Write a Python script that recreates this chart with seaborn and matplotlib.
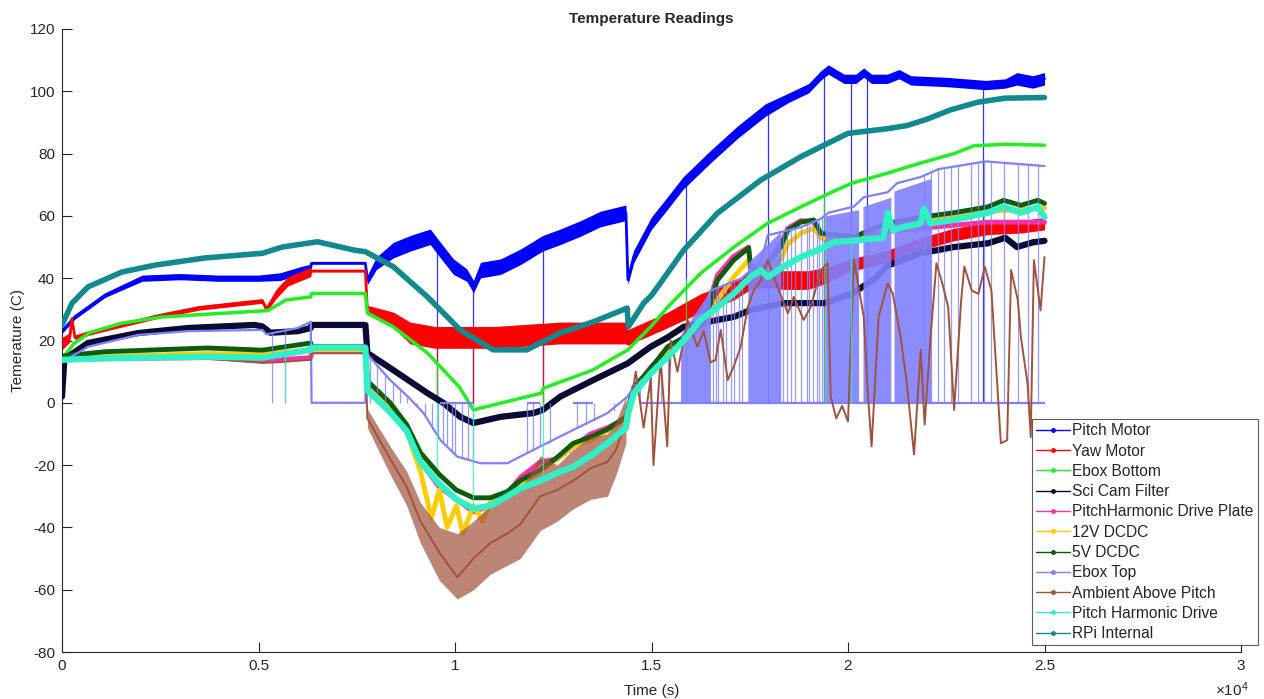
import matplotlib
matplotlib.use("Agg")
import matplotlib.pyplot as plt
from matplotlib.lines import Line2D
import numpy as np
import seaborn as sns

# ------------------------------------------------------------------ data
series_names = ["Pitch Motor", "Yaw Motor", "Ebox Bottom", "Sci Cam Filter",
                "PitchHarmonic Drive Plate", "12V DCDC", "5V DCDC", "Ebox Top",
                "Ambient Above Pitch", "Pitch Harmonic Drive", "RPi Internal"]
series_colors = ["#0000FF", "#FF0000", "#22EE22", "#0A0A33", "#FF2EA8", "#FFCC00",
                 "#0B5D0B", "#8080FF", "#A0523C", "#30F0C8", "#12898F"]

x_tick_values = [0, 5000, 10000, 15000, 20000, 25000, 30000]
x_tick_labels = ["0", "0.5", "1", "1.5", "2", "2.5", "3"]
y_tick_values = [-80, -60, -40, -20, 0, 20, 40, 60, 80, 100, 120]

# Pitch Motor
pitch_motor_t = [0, 330, 1100, 2040, 3000, 4000, 5000, 5550, 6110, 6330,
                 6350, 7720, 7770, 8000, 8430, 8860, 9370, 9630, 9960, 10300,
                 10470, 10650, 11160, 11670, 12230, 12680, 13200, 13700, 14350, 14400,
                 14550, 15000, 15400, 15800, 16500, 17200, 17900, 18500, 19000, 19300,
                 19500, 19700, 19900, 20200, 20400, 20600, 21000, 21300, 21600, 22500,
                 23500, 24000, 24300, 24700, 25000]
pitch_motor_T = [23, 27.6, 34.6, 40, 40.5, 40, 40, 40.5, 42.6, 43.5,
                 44.8, 44.8, 39.4, 44.8, 49, 51.2, 53.3, 49, 43.7, 41,
                 37.3, 42.6, 43.7, 46.9, 51.2, 53.3, 56, 59, 61, 39.5,
                 47, 57.7, 64, 70.5, 79, 87, 94, 98, 101, 105,
                 107, 105.5, 104, 104, 106, 104, 104, 105.5, 103.5, 103,
                 102, 102.5, 104, 103, 104]
pitch_motor_spread = [1.5, 1.5, 1.5, 2, 2, 2, 2, 2.5, 2.5, 2,
                      0.5, 0.5, 3, 4, 5, 5, 5, 5, 5, 4,
                      4, 5, 5, 5, 5, 5, 5, 5, 5, 3,
                      4, 4, 4, 4, 4, 4, 4, 3, 3, 3,
                      3, 3, 3, 3, 3, 3, 3, 3, 3, 3,
                      3, 3, 4, 4, 4]
pitch_motor_drop_t = [9530, 10470, 12230, 15890, 17960, 19380, 20070, 20480, 23430]
pitch_motor_drop_T = [52, 37, 51, 71, 94, 106, 104, 105, 102]

# Yaw Motor
yaw_motor_t = [0, 200, 250, 330, 700, 1500, 2500, 3500, 5100, 5200,
               5450, 5750, 6330, 6350, 7720, 7770, 8430, 8860, 9500, 11000,
               12670, 14350, 14400, 15410, 16250, 16680, 17090, 17520, 17960, 18360,
               18980, 19480, 20000, 21010, 21850, 22690, 23560, 24400, 25000]
yaw_motor_T = [19, 21, 27, 21, 22.5, 25, 28, 30.5, 32.7, 30,
               35, 39, 42, 42.3, 42.3, 29.8, 26.6, 22.4, 21, 21,
               22.4, 22.4, 21, 26.6, 32, 34, 36, 39.4, 40, 39.4,
               39.4, 41, 44, 47, 51, 54, 56, 56.5, 57.5]
yaw_motor_spread = [4, 3, 1, 1.5, 1.5, 1.5, 1.5, 1.5, 1.5, 2,
                    3, 3, 3, 0.5, 0.5, 3, 5, 7, 7, 7,
                    7, 7, 5, 5, 6, 6, 6, 6, 6, 6,
                    6, 5, 4, 4, 4, 4, 4, 4, 4]
yaw_motor_drop_t = [9530, 10470, 12230]
yaw_motor_drop_T = [20, 20, 21]

# Ebox Bottom
ebox_bottom_t = [0, 300, 700, 1500, 2500, 3500, 5100, 5250, 5700, 6330,
                 6350, 7720, 7770, 8430, 9300, 10100, 10470, 11160, 12200, 12250,
                 13500, 14400, 14980, 15410, 16250, 17100, 17950, 18800, 19650, 20100,
                 21000, 21850, 22700, 23200, 24000, 25000]
ebox_bottom_T = [14, 19, 22.5, 25.5, 27.5, 28.3, 29.5, 29.7, 33, 34,
                 35.1, 35.1, 28.8, 24.4, 16, 5.2, -2.3, -0.1, 3.1, 4.7,
                 10.5, 17, 24.4, 30.7, 41.6, 50, 57.6, 62.9, 68, 70.5,
                 73.7, 77, 80, 82.5, 83, 82.7]
ebox_bottom_drop_t = [9530, 10470, 12230, 15890, 19380]
ebox_bottom_drop_T = [12, -2, 3, 40, 67]

# Sci Cam Filter
sci_cam_t = [0, 60, 660, 1940, 3200, 4900, 5100, 5300, 6000, 6330,
             6350, 7720, 7770, 8430, 9300, 9700, 10130, 10470, 11160, 12000,
             12230, 12680, 13520, 14400, 14980, 15410, 15820, 16680, 17100, 17520,
             18360, 19400, 20100, 20700, 21000, 21850, 22690, 23560, 24000, 24300,
             24700, 25000]
sci_cam_T = [2, 14, 19.2, 22.4, 24, 25, 24.5, 22.5, 23, 24,
             25, 25, 16, 10.5, 3.1, 0, -4.5, -6.5, -4.5, -3.3,
             -2.3, 2, 7.3, 12.7, 18, 21, 24.4, 26.6, 27.6, 29.8,
             32, 32, 35, 40, 44, 48, 50, 51.2, 53, 50,
             51.5, 52]

# PitchHarmonic Drive Plate
plate_t = [0, 3700, 5100, 6330, 6350, 7720,
           7770, 8350, 8770, 9120, 9600, 10035, 10470, 10900, 11330, 11660,
           12170, 12600, 13010, 13450, 13880, 14350,
           14400, 14550, 14980, 15410, 15820, 16330, 16680, 17090, 17470, 17520,
           17780, 18290, 18470, 18800, 19130, 19310, 20150, 21010, 21850, 22690,
           23560, 24400, 25000]
plate_T = [14, 14.5, 13.5, 14.5, 16.5, 16.5,
           5, -2, -9, -19, -27, -31, -35, -33, -29, -24,
           -19, -18, -14, -10, -8, -5,
           -4, 4, 11.5, 17, 21, 27, 41, 47, 50, 44,
           42.5, 51, 56, 58.5, 58, 53, 52, 55, 56, 57,
           58, 58, 58]

# 12V DCDC
dcdc12_t = [0, 3700, 5100, 6330, 6350, 7720,
            7770, 8350, 8770, 9120, 9400, 9600, 9800, 10035, 10200, 10470,
            10700, 10900, 11330, 11660, 12170, 12600, 13010, 13450, 13880, 14350,
            14400, 14550, 14980, 15410, 15820, 16330, 16680, 17090, 17470, 17520,
            17780, 18290, 18470, 18800, 19130, 19310, 20150, 21010, 21850, 22690,
            23560, 24400, 25000]
dcdc12_T = [14.5, 15.8, 15.5, 17, 17, 17,
            5, -2, -9, -22, -37, -28, -40, -33, -42, -33,
            -38, -32, -29, -26, -22, -18, -14, -12, -9, -5,
            -5, 3, 10, 16, 20, 24, 33, 40.4, 45.8, 42,
            41, 46, 51, 54.4, 56, 53, 52.5, 56.5, 58.5, 60,
            61.5, 62, 62.5]

# 5V DCDC
dcdc5_t = [0, 1100, 3700, 5100, 6330, 6350, 7720,
           7770, 8350, 8770, 9120, 9600, 10035, 10470, 10900, 11330, 11660,
           12170, 12600, 13010, 13450, 13880, 14350,
           14400, 14550, 14980, 15410, 15820, 16330, 16680, 17090, 17470, 17520,
           17780, 18290, 18470, 18800, 19130, 19310, 20150, 21010, 21850, 22690,
           23560, 23960, 24400, 24830, 25000]
dcdc5_T = [15, 16.4, 17.6, 16.9, 19.2, 18, 18,
           7, 0, -7, -16, -23, -28, -30.5, -30.5, -28.5, -25,
           -21.5, -17.5, -13, -11, -8.5, -4.5,
           -2, 5, 11, 18, 21, 25.6, 39.4, 45.8, 49.7, 43.7,
           42, 50, 55.4, 58, 58.7, 54.4, 53.3, 57.6, 59.6, 61,
           62.9, 65, 63.4, 65, 64]

# Ebox Top
ebox_top_t = [0, 660, 1940, 3200, 5100, 5200, 6000, 6330, 6350, 7720,
              7740, 8350, 8800, 9200, 9630, 10060, 10650, 11330, 12170, 13010,
              13880, 14390, 14550, 15400, 16250, 16500, 17300, 17800, 17960, 18800,
              19300, 19500, 20150, 20400, 21010, 21250, 21850, 22300, 23500, 24500,
              25000]
ebox_top_T = [13, 18, 21.8, 23, 23.4, 22, 24, 26, 0, 0,
              16, 7.3, 2, -3.3, -12, -17.3, -19.4, -19.4, -14, -8.7,
              -3.3, 2, 5.2, 13.7, 26.6, 36, 40, 45.8, 53.8, 56.4,
              59, 61, 63, 66, 67.6, 70.5, 72.5, 75, 77.5, 76.5,
              76]
ebox_top_drop_t = [5350, 5680, 7845, 8023, 8227, 8431, 8609, 8787, 9042, 9246,
                   9424, 9577, 9704, 9806, 9933, 10009, 10188, 10341, 10468, 11844,
                   11997, 12175, 12429, 13117, 13321, 13525, 14034,
                   14720, 14980, 15230, 15430, 16560, 16630, 16700, 16810, 16900, 17020,
                   17100, 17220, 17300, 18350, 18450, 18540, 18650, 18800, 18950, 19000,
                   19100, 19200, 19260, 19350, 21930, 22110, 22290, 22440, 22620, 22800,
                   23130, 23300, 23460, 23640, 23970, 24320, 24580, 24830]
ebox_top_drop_T = [22.5, 23, 15, 12, 9, 6.5, 4, 2, -1, -4,
                   -7, -11, -13, -14, -16, -17, -18, -18.5, -19, -16,
                   -15, -14, -13, -8, -7, -6, -2.5,
                   8, 10, 12, 14, 36.5, 37, 37.5, 38, 38.5, 39,
                   39.5, 40, 40, 55, 55.2, 55.5, 56, 56.4, 57, 57.2,
                   58, 58.5, 58.8, 59.5, 73, 74, 74.7, 75.2, 75.7, 76.2,
                   77, 77.3, 77.5, 77.4, 77.2, 76.8, 76.5, 76.2]
ebox_top_zero_start = [9630, 11840, 13010, 14720]
ebox_top_zero_end = [10470, 12170, 13520, 25000]
ebox_top_dense_start = [15740, 17450, 19410, 20380, 21170]
ebox_top_dense_end = [16500, 18290, 20270, 21090, 22110]
ebox_top_dense_top_start = [22, 45, 60, 63, 68]
ebox_top_dense_top_end = [36, 55, 62, 66, 72]

# Ambient Above Pitch
ambient_t = [0, 1000, 3700, 5100, 5500, 6330, 6350, 7720,
             7770, 8350, 8770, 9120, 9600, 10060, 10470, 10900, 11330, 11660,
             12170, 12600, 13010, 13450, 13880, 14100, 14350,
             14420, 14600, 14800, 14980, 15050, 15230, 15400, 15490, 15660, 15920,
             16170, 16330, 16500, 16630, 16760, 16940, 17090, 17270, 17450, 17600,
             17780, 17960, 18210, 18470, 18620, 18870, 19050, 19310, 19480, 19560,
             19700, 19850, 20000, 20150, 20400, 20500, 20600, 20780, 21010, 21140,
             21340, 21500, 21680, 21850, 21950, 22100, 22250, 22400, 22550, 22700,
             22880, 22960, 23150, 23320, 23480, 23650, 23890, 24050, 24150, 24320,
             24400, 24570, 24650, 24730, 24900, 25000]
ambient_T = [14, 14.5, 14.2, 12.8, 13, 13.8, 15.9, 15.9,
             -5, -18, -27, -38, -48, -56, -50, -45, -42, -39,
             -30, -28, -25, -21, -19, -15, -6,
             -5, 10, -8, 8, -20, 14, -14, 20, 10, 26.6,
             18, 23, 13, 13.7, 23.4, 7.3, 11.6, 18, 30.7, 36,
             39.4, 45.8, 37.2, 28.7, 34, 26.6, 30.7, 42.6, 44.8, 2,
             -5, -1, -6, 46, 27.6, 4, -14, 27.6, 38.3, 35,
             21, 6, -16.6, 17, -7, 21, 44.8, 38.3, 30.7, -2.3,
             33, 43.7, 36, 35, 43.7, 36, -13, -12, 42.6, 33,
             21, 6, -11, 45.8, 29.7, 46.8]
ambient_band_t = [7770, 8350, 8770, 9120, 9600, 10060, 10470, 10900, 11660, 12170,
                  12600, 13010, 13450, 13880, 14100, 14350]
ambient_band_high = [-2, -14, -22, -32, -40, -42, -38, -33, -28, -17,
                     -20, -15, -11, -10, -6, 2]
ambient_band_low = [-8, -23, -33, -45, -57, -63, -60, -55, -50, -41,
                    -38, -34, -31, -30, -23, -13]

# Pitch Harmonic Drive
harmonic_t = [0, 1100, 3700, 5100, 6330, 6350, 7720,
              7770, 8350, 8770, 9120, 9600, 10035, 10470, 10900, 11330, 11660,
              12170, 12600, 13010, 13450, 13880, 14350,
              14400, 14550, 14980, 15410, 15820, 16250, 16680, 17090, 17520, 17780,
              17960, 18360, 18800, 19230, 19650, 20070, 20900, 21010, 21140, 21420,
              21850, 21930, 22100, 22690, 23560, 23960, 24400, 24830, 25000]
harmonic_T = [13.8, 14.3, 14.8, 14.5, 17, 17.7, 17.7,
              4, -3, -9, -19, -26, -31, -34, -33, -30, -27.5,
              -25, -22.5, -20.5, -17, -13, -8,
              -3.3, 3, 9.5, 14.7, 20, 26.6, 30.7, 35, 40.4, 42.6,
              40.4, 43.7, 46.8, 49, 51.6, 52, 53, 61, 55.4, 56.4,
              57.6, 62.4, 57.6, 58.7, 61, 62.9, 61, 62.9, 59.6]
harmonic_drop_t = [5680, 9530, 10470, 12230, 20070]
harmonic_drop_T = [15, -21, -34, -25, 52]

# RPi Internal
rpi_t = [0, 255, 660, 1530, 2370, 3640, 5100, 5600, 6500, 7440,
         7720, 8430, 9300, 10130, 10970, 11830, 12670, 13520, 14380, 14410,
         14800, 15000, 15230, 15820, 16680, 17780, 18800, 20000, 21000, 21500,
         22000, 22600, 23300, 24000, 25000]
rpi_T = [25, 32, 37.2, 42, 44.2, 46.5, 48, 50, 51.7, 49,
         48.5, 43.7, 34, 23.4, 17, 17, 22.4, 26, 30.4, 24.4,
         32, 34.5, 38.5, 49, 60.9, 71.5, 79, 86.5, 88, 89,
         91, 94, 96.5, 97.8, 98]

# ------------------------------------------------------------------ style
sns.set_theme(style="white")
plt.rcParams["font.family"] = ["Liberation Sans", "DejaVu Sans"]
plt.rcParams["mathtext.fontset"] = "custom"
plt.rcParams["mathtext.rm"] = "Liberation Sans"
plt.rcParams["mathtext.it"] = "Liberation Sans"

fig = plt.figure(figsize=(12.64, 6.99), dpi=100)
ax = fig.add_axes([62 / 1264, 1 - 652 / 699, (1241 - 62) / 1264, (652 - 29) / 699])

series_t = [pitch_motor_t, yaw_motor_t, ebox_bottom_t, sci_cam_t, plate_t, dcdc12_t,
            dcdc5_t, ebox_top_t, ambient_t, harmonic_t, rpi_t]
series_T = [pitch_motor_T, yaw_motor_T, ebox_bottom_T, sci_cam_T, plate_T, dcdc12_T,
            dcdc5_T, ebox_top_T, ambient_T, harmonic_T, rpi_T]
series_lw = [2.0, 2.0, 2.5, 4.5, 3.5, 3.5, 3.5, 1.6, 1.4, 4.5, 4.0]

drops = {0: (pitch_motor_drop_t, pitch_motor_drop_T),
         1: (yaw_motor_drop_t, yaw_motor_drop_T),
         2: (ebox_bottom_drop_t, ebox_bottom_drop_T),
         7: (ebox_top_drop_t, ebox_top_drop_T),
         9: (harmonic_drop_t, harmonic_drop_T)}

for i, name in enumerate(series_names):
    c = series_colors[i]
    z = 2 + i
    t = np.array(series_t[i], dtype=float)
    T = np.array(series_T[i], dtype=float)
    # noise bands
    if i == 0:
        s = np.array(pitch_motor_spread) / 2
        ax.fill_between(t, T - s, T + s, color=c, lw=0, zorder=z)
    if i == 1:
        s = np.array(yaw_motor_spread) / 2
        ax.fill_between(t, T - s, T + s, color=c, lw=0, zorder=z)
    if i == 7:
        for a, b in zip(ebox_top_zero_start, ebox_top_zero_end):
            ax.hlines(0, a, b, color=c, lw=1.6, zorder=z)
        for a, b, ta, tb in zip(ebox_top_dense_start, ebox_top_dense_end,
                                ebox_top_dense_top_start, ebox_top_dense_top_end):
            ax.fill_between([a, b], [0, 0], [ta, tb], color=c, lw=0, alpha=0.9, zorder=z)
    if i == 8:
        ax.fill_between(ambient_band_t, ambient_band_low, ambient_band_high,
                        color=c, alpha=0.7, lw=0, zorder=z)
    if i in drops:
        dt, dT = drops[i]
        ax.vlines(dt, 0, dT, color=c, lw=0.9, alpha=0.8, zorder=z)
    sns.lineplot(x=t, y=T, ax=ax, color=c, linewidth=series_lw[i],
                 estimator=None, sort=False, zorder=z + 0.1)

# ------------------------------------------------------------------ axes
ax.set_xlim(0, 30000)
ax.set_ylim(-80, 120)
ax.set_xticks(x_tick_values)
ax.set_xticklabels(x_tick_labels)
ax.set_yticks(y_tick_values)
ax.set_yticklabels([str(v) for v in y_tick_values])
for side in ["top", "right"]:
    ax.spines[side].set_visible(False)
for side in ["left", "bottom"]:
    ax.spines[side].set_color("#262626")
    ax.spines[side].set_linewidth(0.8)
ax.tick_params(direction="in", length=7, width=0.8, colors="#262626",
               labelsize=11, pad=5)
ax.tick_params(axis="x", bottom=True)
ax.tick_params(axis="y", left=True)
ax.set_xlabel("Time (s)", fontsize=11, color="#262626", labelpad=8)
ax.set_ylabel("Temerature (C)", fontsize=11, color="#262626", labelpad=3)
ax.set_title("Temperature Readings", fontsize=11, fontweight="bold", pad=4)
ax.grid(False)
ax.set_facecolor("white")
fig.text(1232 / 1264, 1 - 690 / 699, r"$\times10^{4}$", fontsize=11,
         ha="center", va="center", color="#262626")

handles = [Line2D([0], [0], color=series_colors[i], lw=1, marker=".", markersize=5)
           for i in range(len(series_names))]
leg = fig.legend(handles, series_names, loc="lower left",
                 bbox_to_anchor=(1032 / 1264, 1 - 645 / 699), frameon=True,
                 fancybox=False, edgecolor="#333333", fontsize=11.2,
                 handlelength=2.2, handletextpad=0.15, labelspacing=0.34,
                 borderpad=0.25, borderaxespad=0)
leg.get_frame().set_linewidth(0.8)
leg.set_zorder(20)

fig.savefig("out.png", dpi=100)
